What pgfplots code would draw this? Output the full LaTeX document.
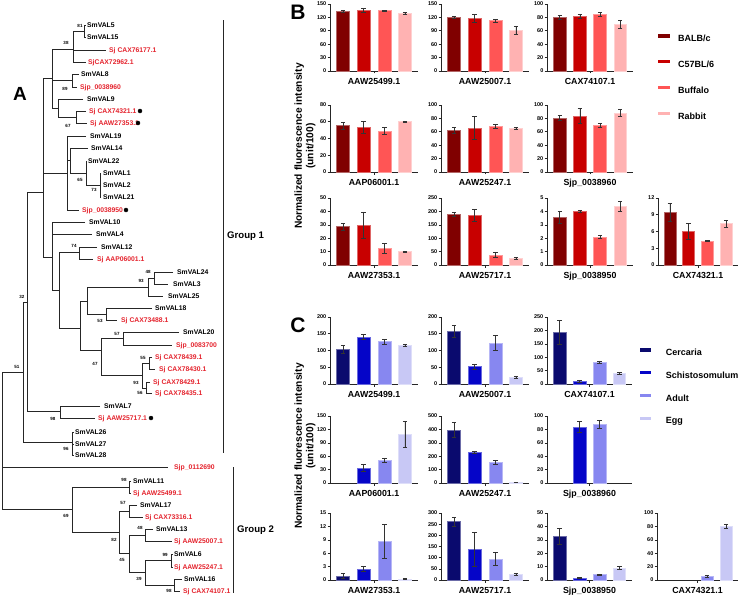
\documentclass[border=0pt]{standalone}
\usepackage{fontspec}
\setmainfont{Liberation Sans}
\usepackage{pgfplots}
\pgfplotsset{compat=1.18}
\definecolor{b1}{RGB}{128,0,0}
\definecolor{b2}{RGB}{200,0,0}
\definecolor{b3}{RGB}{255,85,85}
\definecolor{b4}{RGB}{255,178,178}
\definecolor{c1}{RGB}{10,10,110}
\definecolor{c2}{RGB}{5,5,200}
\definecolor{c3}{RGB}{135,135,240}
\definecolor{c4}{RGB}{200,200,245}
\definecolor{sjred}{RGB}{228,35,45}
\newcommand{\fTL}{\fontsize{6.8}{8}\selectfont\bfseries}
\newcommand{\fSV}{\fontsize{4.5}{5}\selectfont\bfseries}
\newcommand{\fTK}{\fontsize{5.5}{6}\selectfont\bfseries}
\newcommand{\fTT}{\fontsize{8.8}{10}\selectfont\bfseries}
\newcommand{\fLG}{\fontsize{9}{10}\selectfont\bfseries}
\newcommand{\fYL}{\fontsize{10.2}{11.5}\selectfont\bfseries}
\newcommand{\lb}[3]{\node[anchor=base west, inner sep=0pt, font=\fTL, yshift=-2.4pt] at (axis cs:#1,#2) {#3};}
\newcommand{\lr}[3]{\node[anchor=base west, inner sep=0pt, font=\fTL, text=sjred, yshift=-2.4pt] at (axis cs:#1,#2) {#3};}
\newcommand{\sv}[3]{\node[inner sep=0pt, font=\fSV] at (axis cs:#1,#2) {#3};}
\pgfplotsset{
 bax/.style={scale only axis, width=88pt, height=67pt, anchor=north west,
  axis x line*=bottom, axis y line*=left, xmin=-0.63, xmax=3.63, ymin=0,
  xtick={1.5}, xticklabels={}, tick align=outside, major tick length=2.5pt,
  axis line style={-, line width=0.75pt, black!85}, tick style={line width=0.6pt, black!85},
  yticklabel style={font=\fTK, inner sep=1pt}, /pgf/number format/assume math mode=true,
  xlabel style={at={(axis description cs:0.5,0)}, anchor=base, yshift=-13.5pt, font=\fTT},
  clip=false},
 bb/.style={ybar, bar width=0.63, bar shift=0pt, fill=#1, draw=#1!60!white, line width=0.5pt, forget plot,
  error bars/.cd, y dir=both, y explicit, error bar style={line width=0.6pt, black!80},
  error mark options={rotate=90, mark size=2.2pt, line width=0.6pt, black!80}},
}
\begin{document}
\begin{tikzpicture}
\path[use as bounding box] (0,0) rectangle (743pt,598pt);
\begin{axis}[at={(0pt,0pt)}, anchor=south west, scale only axis, width=743pt, height=598pt,
 xmin=0, xmax=743, ymin=0, ymax=598, y dir=reverse, axis lines=none, ticks=none, clip=false, enlargelimits=false]
\addplot[line width=0.75pt, black!85, unbounded coords=jump, mark=none] coordinates {
(2,372)(2,509) (nan,nan)
(2,372)(23,372) (nan,nan)
(2,467)(168,467) (nan,nan)
(2,509)(72,509) (nan,nan)
(27,302)(23,302)(23,442)(72,442) (nan,nan)
(74,432)(72,432)(72,455)(74,455) (nan,nan)
(72,444)(74,444) (nan,nan)
(43,192)(27,192)(27,411)(60,411) (nan,nan)
(100,406)(60,406)(60,418)(95,418) (nan,nan)
(52,78)(43,78)(43,257)(52,257) (nan,nan)
(43,173)(67,173) (nan,nan)
(73,49)(52,49)(52,108)(58,108) (nan,nan)
(52,80)(72,80) (nan,nan)
(84,31)(73,31)(73,62)(86,62) (nan,nan)
(73,50)(106,50) (nan,nan)
(86,25)(84,25)(84,37)(86,37) (nan,nan)
(79,74)(72,74)(72,87)(77,87) (nan,nan)
(83,99)(58,99)(58,117)(76,117) (nan,nan)
(86,111)(76,111)(76,123)(87,123) (nan,nan)
(86,136)(67,136)(67,210)(79,210) (nan,nan)
(67,160)(70,160) (nan,nan)
(88,148)(70,148)(70,173)(86,173) (nan,nan)
(87,161)(86,161)(86,185)(101,185) (nan,nan)
(101,173)(100,173)(100,197)(101,197) (nan,nan)
(85,222)(52,222)(52,290)(59,290) (nan,nan)
(52,234)(92,234) (nan,nan)
(79,252)(59,252)(59,328)(80,328) (nan,nan)
(97,247)(79,247)(79,259)(93,259) (nan,nan)
(87,301)(80,301)(80,350)(101,350) (nan,nan)
(148,287)(87,287)(87,314)(106,314) (nan,nan)
(154,278)(148,278)(148,296)(163,296) (nan,nan)
(173,272)(154,272)(154,284)(168,284) (nan,nan)
(152,308)(106,308)(106,320)(117,320) (nan,nan)
(123,338)(101,338)(101,375)(142,375) (nan,nan)
(179,332)(123,332)(123,345)(172,345) (nan,nan)
(149,363)(142,363)(142,388)(146,388) (nan,nan)
(152,357)(149,357)(149,369)(155,369) (nan,nan)
(150,382)(146,382)(146,393)(152,393) (nan,nan)
(129,487)(72,487)(72,532)(119,532) (nan,nan)
(131,481)(129,481)(129,493)(131,493) (nan,nan)
(129,511)(119,511)(119,553)(129,553) (nan,nan)
(137,505)(129,505)(129,517)(143,517) (nan,nan)
(145,535)(129,535)(129,572)(145,572) (nan,nan)
(153,529)(145,529)(145,541)(172,541) (nan,nan)
(171,560)(145,560)(145,585)(174,585) (nan,nan)
(173,554)(171,554)(171,567)(173,567) (nan,nan)
(182,579)(174,579)(174,591)(180,591)
};
\addplot[line width=0.6pt, black!85, unbounded coords=jump, mark=none] coordinates {
(223,20)(223,453) (nan,nan) (233,467)(233,593)};
\addplot[only marks, mark=*, mark size=2pt, black] coordinates {(140,111) (138,123) (126,210) (151,418)};
\lb{87}{25}{SmVAL5}
\lb{87}{37}{SmVAL15}
\lr{109}{50}{Sj CAX76177.1}
\lr{88}{62}{SjCAX72962.1}
\lb{81}{74}{SmVAL8}
\lr{80}{87}{Sjp\_0038960}
\lb{87}{99}{SmVAL9}
\lr{89}{111}{Sj CAX74321.1}
\lr{90}{123}{Sj AAW27353.1}
\lb{90}{136}{SmVAL19}
\lb{91}{148}{SmVAL14}
\lb{88}{161}{SmVAL22}
\lb{103}{173}{SmVAL1}
\lb{103}{185}{SmVAL2}
\lb{103}{197}{SmVAL21}
\lr{82}{210}{Sjp\_0038950}
\lb{89}{222}{SmVAL10}
\lb{96}{234}{SmVAL4}
\lb{101}{247}{SmVAL12}
\lr{97}{259}{Sj AAP06001.1}
\lb{177}{272}{SmVAL24}
\lb{173}{284}{SmVAL3}
\lb{168}{296}{SmVAL25}
\lb{155}{308}{SmVAL18}
\lr{121}{320}{Sj CAX73488.1}
\lb{183}{332}{SmVAL20}
\lr{176}{345}{Sjp\_0083700}
\lr{155}{357}{Sj CAX78439.1}
\lr{159}{369}{Sj CAX78430.1}
\lr{153}{382}{Sj CAX78429.1}
\lr{155}{393}{Sj CAX78435.1}
\lb{104}{406}{SmVAL7}
\lr{98}{418}{Sj AAW25717.1}
\lb{75}{432}{SmVAL26}
\lb{75}{444}{SmVAL27}
\lb{75}{455}{SmVAL28}
\lr{174}{467}{Sjp\_0112690}
\lb{133}{481}{SmVAL11}
\lr{133}{493}{Sj AAW25499.1}
\lb{140}{505}{SmVAL17}
\lr{145}{517}{Sj CAX73316.1}
\lb{156}{529}{SmVAL13}
\lr{174}{541}{Sj AAW25007.1}
\lb{174}{554}{SmVAL6}
\lr{174}{567}{Sj AAW25247.1}
\lb{184}{579}{SmVAL16}
\lr{183}{591}{Sj CAX74107.1}
\sv{80}{26}{81}\sv{66}{43}{38}\sv{65}{89}{89}\sv{68}{126}{67}\sv{80}{180}{65}\sv{94}{190}{73}
\sv{74}{246}{74}\sv{148}{272}{48}\sv{141}{281}{93}\sv{100}{321}{53}\sv{117}{334}{57}\sv{143}{358}{55}
\sv{95}{364}{47}\sv{136}{383}{93}\sv{140}{393}{56}\sv{22}{297}{32}\sv{17}{367}{51}\sv{53}{419}{98}
\sv{66}{449}{96}\sv{124}{480}{98}\sv{66}{516}{69}\sv{123}{503}{57}\sv{114}{540}{82}\sv{140}{528}{48}
\sv{122}{560}{45}\sv{165}{555}{99}\sv{139}{579}{39}\sv{169}{591}{98}
\node[anchor=base west, inner sep=0pt, font=\fontsize{9.6}{11}\selectfont\bfseries, yshift=-3.4pt] at (axis cs:227,235) {Group 1};
\node[anchor=base west, inner sep=0pt, font=\fontsize{9.6}{11}\selectfont\bfseries, yshift=-3.4pt] at (axis cs:237,529) {Group 2};
\node[inner sep=0pt, font=\fontsize{19}{20}\selectfont\bfseries] at (axis cs:20,94) {A};
\node[inner sep=0pt, font=\fontsize{21}{22}\selectfont\bfseries] at (axis cs:298,12.5) {B};
\node[inner sep=0pt, font=\fontsize{21}{22}\selectfont\bfseries] at (axis cs:298,325.5) {C};
\node[rotate=90, align=center, inner sep=0pt, font=\fYL] at (axis cs:305,146) {Normalized fluorescence intensity\\(unit/100)};
\node[rotate=90, align=center, inner sep=0pt, font=\fYL] at (axis cs:305,446) {Normalized fluorescence intensity\\(unit/100)};
\end{axis}
% ---------------- Panel B ----------------
\begin{axis}[bax, at={(330pt,594pt)}, ymax=150, ytick={0,30,...,150}, xlabel={AAW25499.1}]
\addplot[bb=b1] coordinates {(0,134) +- (0,1.5)};
\addplot[bb=b2] coordinates {(1,136) +- (0,4)};
\addplot[bb=b3] coordinates {(2,135) +- (0,1.5)};
\addplot[bb=b4] coordinates {(3,129) +- (0,2)};
\end{axis}
\begin{axis}[bax, at={(441pt,594pt)}, ymax=150, ytick={0,30,...,150}, xlabel={AAW25007.1}]
\addplot[bb=b1] coordinates {(0,120) +- (0,2.5)};
\addplot[bb=b2] coordinates {(1,118) +- (0,8)};
\addplot[bb=b3] coordinates {(2,113) +- (0,3)};
\addplot[bb=b4] coordinates {(3,92) +- (0,9)};
\end{axis}
\begin{axis}[bax, at={(547pt,594pt)}, width=86pt, ymax=100, ytick={0,20,...,100}, xlabel={CAX74107.1},
 legend image code/.code={\fill[#1, draw=none] (0pt,1.6pt) rectangle (12pt,4.8pt);},
 legend style={at={(1.29,0.567)}, anchor=north west, draw=none, fill=none, font=\fLG, row sep=13.8pt, column sep=6pt, inner sep=0pt, cells={anchor=west}}]
\addlegendimage{fill=b1}\addlegendentry{BALB/c}
\addlegendimage{fill=b2}\addlegendentry{C57BL/6}
\addlegendimage{fill=b3}\addlegendentry{Buffalo}
\addlegendimage{fill=b4}\addlegendentry{Rabbit}
\addplot[bb=b1] coordinates {(0,79.5) +- (0,3)};
\addplot[bb=b2] coordinates {(1,81.5) +- (0,3)};
\addplot[bb=b3] coordinates {(2,84.5) +- (0,3.5)};
\addplot[bb=b4] coordinates {(3,69.5) +- (0,5.5)};
\end{axis}
\begin{axis}[bax, at={(330pt,493pt)}, ymax=80, ytick={0,20,...,80}, xlabel={AAP06001.1}]
\addplot[bb=b1] coordinates {(0,55.4) +- (0,4)};
\addplot[bb=b2] coordinates {(1,53.4) +- (0,7)};
\addplot[bb=b3] coordinates {(2,48.8) +- (0,4)};
\addplot[bb=b4] coordinates {(3,60) +- (0,1)};
\end{axis}
\begin{axis}[bax, at={(441pt,493pt)}, ymax=100, ytick={0,20,...,100}, xlabel={AAW25247.1}]
\addplot[bb=b1] coordinates {(0,62) +- (0,4)};
\addplot[bb=b2] coordinates {(1,66) +- (0,17)};
\addplot[bb=b3] coordinates {(2,68) +- (0,3)};
\addplot[bb=b4] coordinates {(3,65) +- (0,1)};
\end{axis}
\begin{axis}[bax, at={(547pt,493pt)}, width=86pt, ymax=100, ytick={0,20,...,100}, xlabel={Sjp\_0038960}]
\addplot[bb=b1] coordinates {(0,80.5) +- (0,4)};
\addplot[bb=b2] coordinates {(1,83.5) +- (0,11)};
\addplot[bb=b3] coordinates {(2,69.5) +- (0,3)};
\addplot[bb=b4] coordinates {(3,88) +- (0,5)};
\end{axis}
\begin{axis}[bax, at={(330pt,400pt)}, ymax=50, ytick={0,10,...,50}, xlabel={AAW27353.1}]
\addplot[bb=b1] coordinates {(0,28.7) +- (0,2.5)};
\addplot[bb=b2] coordinates {(1,29.7) +- (0,10)};
\addplot[bb=b3] coordinates {(2,12.5) +- (0,3.5)};
\addplot[bb=b4] coordinates {(3,10) +- (0,0.5)};
\end{axis}
\begin{axis}[bax, at={(441pt,400pt)}, ymax=250, ytick={0,50,...,250}, xlabel={AAW25717.1}]
\addplot[bb=b1] coordinates {(0,190) +- (0,7)};
\addplot[bb=b2] coordinates {(1,185) +- (0,22)};
\addplot[bb=b3] coordinates {(2,37.5) +- (0,9)};
\addplot[bb=b4] coordinates {(3,25) +- (0,5)};
\end{axis}
\begin{axis}[bax, at={(547pt,400pt)}, width=86pt, ymax=5, ytick={0,1,...,5}, xlabel={Sjp\_0038950}]
\addplot[bb=b1] coordinates {(0,3.58) +- (0,0.45)};
\addplot[bb=b2] coordinates {(1,4.0) +- (0,0.05)};
\addplot[bb=b3] coordinates {(2,2.08) +- (0,0.12)};
\addplot[bb=b4] coordinates {(3,4.37) +- (0,0.35)};
\end{axis}
\begin{axis}[bax, at={(658pt,400pt)}, width=80pt, ymax=12, ytick={0,3,...,12}, xlabel={CAX74321.1}]
\addplot[bb=b1] coordinates {(0,9.5) +- (0,1.6)};
\addplot[bb=b2] coordinates {(1,6.0) +- (0,1.4)};
\addplot[bb=b3] coordinates {(2,4.3) +- (0,0.1)};
\addplot[bb=b4] coordinates {(3,7.4) +- (0,0.6)};
\end{axis}
% ---------------- Panel C ----------------
\begin{axis}[bax, at={(330pt,281pt)}, ymax=200, ytick={0,50,...,200}, xlabel={AAW25499.1}]
\addplot[bb=c1] coordinates {(0,103) +- (0,12)};
\addplot[bb=c2] coordinates {(1,141) +- (0,8)};
\addplot[bb=c3] coordinates {(2,127) +- (0,7)};
\addplot[bb=c4] coordinates {(3,117) +- (0,3)};
\end{axis}
\begin{axis}[bax, at={(441pt,281pt)}, ymax=200, ytick={0,50,...,200}, xlabel={AAW25007.1}]
\addplot[bb=c1] coordinates {(0,157) +- (0,18)};
\addplot[bb=c2] coordinates {(1,52) +- (0,8)};
\addplot[bb=c3] coordinates {(2,122) +- (0,22)};
\addplot[bb=c4] coordinates {(3,21) +- (0,3)};
\end{axis}
\begin{axis}[bax, at={(547pt,281pt)}, width=85pt, ymax=250, ytick={0,50,...,250}, xlabel={CAX74107.1},
 legend image code/.code={\fill[#1, draw=none] (0pt,1.6pt) rectangle (11pt,4.8pt);},
 legend style={at={(1.09,0.552)}, anchor=north west, draw=none, fill=none, font=\fLG, row sep=10.8pt, column sep=13pt, inner sep=0pt, cells={anchor=west}}]
\addlegendimage{fill=c1}\addlegendentry{Cercaria}
\addlegendimage{fill=c2}\addlegendentry{Schistosomulum}
\addlegendimage{fill=c3}\addlegendentry{Adult}
\addlegendimage{fill=c4}\addlegendentry{Egg}
\addplot[bb=c1] coordinates {(0,192) +- (0,45)};
\addplot[bb=c2] coordinates {(1,10) +- (0,3)};
\addplot[bb=c3] coordinates {(2,81) +- (0,5)};
\addplot[bb=c4] coordinates {(3,39) +- (0,4)};
\end{axis}
\begin{axis}[bax, at={(330pt,182pt)}, ymax=150, ytick={0,30,...,150}, xlabel={AAP06001.1}]
\addplot[bb=c2] coordinates {(1,34) +- (0,7)};
\addplot[bb=c3] coordinates {(2,51) +- (0,5)};
\addplot[bb=c4] coordinates {(3,110) +- (0,29)};
\end{axis}
\begin{axis}[bax, at={(441pt,182pt)}, ymax=500, ytick={0,100,...,500}, xlabel={AAW25247.1}]
\addplot[bb=c1] coordinates {(0,395) +- (0,55)};
\addplot[bb=c2] coordinates {(1,229) +- (0,10)};
\addplot[bb=c3] coordinates {(2,155) +- (0,15)};
\addplot[bb=c4] coordinates {(3,2) +- (0,0)};
\end{axis}
\begin{axis}[bax, at={(547pt,182pt)}, width=85pt, ymax=100, ytick={0,20,...,100}, xlabel={Sjp\_0038960}]
\addplot[bb=c2] coordinates {(1,83.7) +- (0,8)};
\addplot[bb=c3] coordinates {(2,87.4) +- (0,6)};
\end{axis}
\begin{axis}[bax, at={(330pt,85pt)}, ymax=15, ytick={0,3,...,15}, xlabel={AAW27353.1}]
\addplot[bb=c1] coordinates {(0,0.95) +- (0,0.5)};
\addplot[bb=c2] coordinates {(1,2.5) +- (0,0.5)};
\addplot[bb=c3] coordinates {(2,8.7) +- (0,3.8)};
\addplot[bb=c4] coordinates {(3,0.25) +- (0,0.1)};
\end{axis}
\begin{axis}[bax, at={(441pt,85pt)}, ymax=300, ytick={0,50,...,300}, xlabel={AAW25717.1}]
\addplot[bb=c1] coordinates {(0,261) +- (0,21)};
\addplot[bb=c2] coordinates {(1,138) +- (0,75)};
\addplot[bb=c3] coordinates {(2,94) +- (0,28)};
\addplot[bb=c4] coordinates {(3,24) +- (0,4)};
\end{axis}
\begin{axis}[bax, at={(547pt,85pt)}, width=85pt, ymax=50, ytick={0,10,...,50}, xlabel={Sjp\_0038950}]
\addplot[bb=c1] coordinates {(0,32.75) +- (0,6)};
\addplot[bb=c2] coordinates {(1,1.5) +- (0,0.4)};
\addplot[bb=c3] coordinates {(2,4.0) +- (0,0.6)};
\addplot[bb=c4] coordinates {(3,9.0) +- (0,1.2)};
\end{axis}
\begin{axis}[bax, at={(657pt,85pt)}, width=81pt, ymax=100, ytick={0,20,...,100}, xlabel={CAX74321.1}]
\addplot[bb=c3] coordinates {(2,5) +- (0,1.5)};
\addplot[bb=c4] coordinates {(3,80.5) +- (0,3)};
\end{axis}
\end{tikzpicture}
\end{document}
